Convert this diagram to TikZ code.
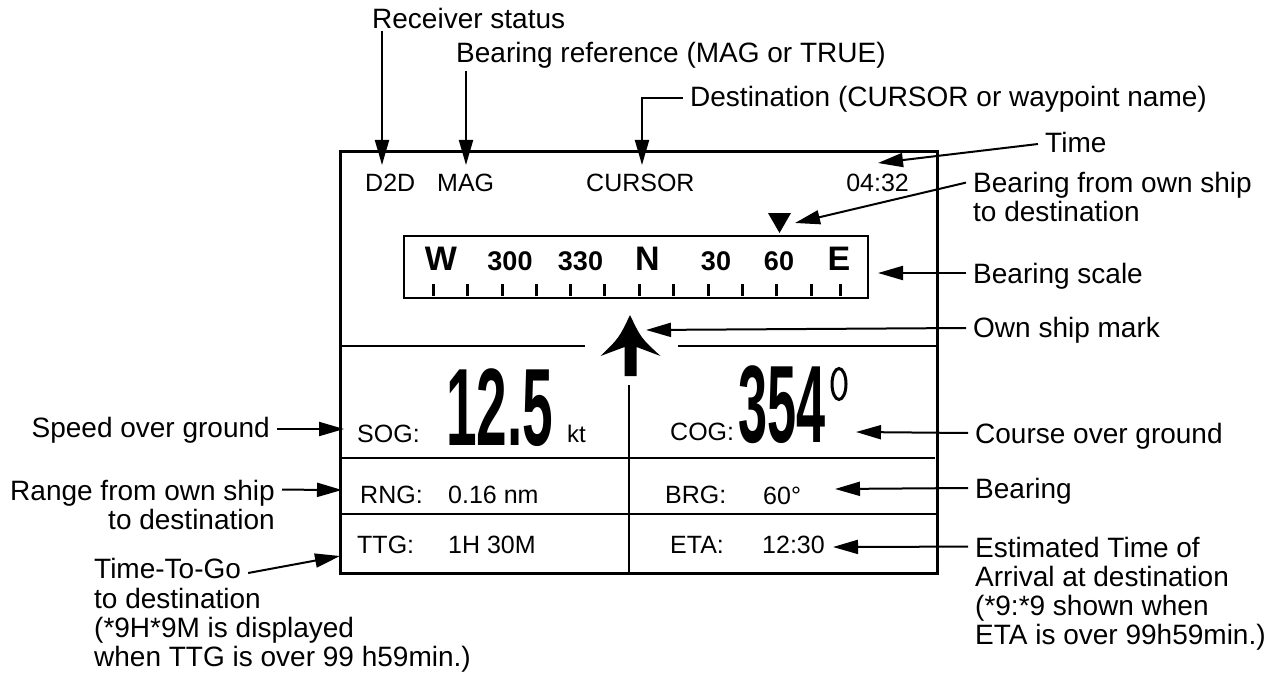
\documentclass[tikz,border=0pt]{standalone}
\usepackage{fontspec}
\setmainfont{Liberation Sans}
\usetikzlibrary{arrows.meta}

\begin{document}
\begin{tikzpicture}[x=1pt, y=-1pt, >={Triangle[length=25pt, width=14pt]},
  lbl/.style={font=\fontsize{28}{29}\selectfont, inner xsep=7pt, inner ysep=2pt},
  scr/.style={font=\fontsize{25}{27}\selectfont, inner sep=0pt, anchor=base west},
  deg/.style={font=\fontsize{27}{27}\selectfont\bfseries, inner sep=0pt, anchor=base},
  big/.style={font=\fontsize{110}{110}\selectfont\bfseries, inner sep=0pt, anchor=base west},
  lead/.style={line width=2pt}]
  \useasboundingbox (0,0) rectangle (1284,679);

  \draw[line width=3pt] (340,152) rectangle (937,573);
  \draw[line width=2pt] (340,346) -- (585,346) (678,346) -- (937,346);
  \draw[line width=2pt] (340,457.5) -- (935,457.5) (340,514) -- (937,514);
  \draw[line width=2pt] (628.5,385) -- (628.5,573);

  \node[scr] (d2d) at (365,191) {D2D};
  \node[scr] (mag) at (437,191) {MAG};
  \node[scr] (cursor) at (586,191) {CURSOR};
  \node[scr, anchor=base east] (clock) at (909,191) {04:32};

  \node[draw, line width=2pt, minimum width=464pt, minimum height=62pt, inner sep=0pt] (scale) at (636,267) {};
  \foreach \t in {433,467.5,502,536,570.5,604.5,639,673.5,708,742,776.5,811,840}
    \draw[line width=3pt] (\t,284) -- (\t,296);
  \foreach \x/\s in {510/300, 580.5/330, 716/30, 779/60}
    \node[deg] (s\s) at (\x,270) {\s};
  \foreach \x/\s in {441/W, 647.5/N, 839/E}
    \node[deg, font=\fontsize{34}{34}\selectfont\bfseries] (p\s) at (\x,270) {\s};
  \fill (768,213) -- (791,213) -- (779.5,233) -- cycle;

  \fill (630,315) .. controls (619,338) .. (600.5,356) -- (624.5,347) -- (624.5,376)
    -- (636.5,376) -- (636.5,347) -- (660.5,356) .. controls (641,338) .. (630,315) -- cycle;

  \node[scr] (sog) at (357,442) {SOG:};
  \node[big] (sogval) at (446,445) {\scalebox{0.5}[1]{12.5}};
  \node[scr, font=\fontsize{24}{24}\selectfont] (kt) at (567,442) {kt};
  \node[scr] (cog) at (670,440) {COG:};
  \node[big] (cogval) at (738,442) {\scalebox{0.475}[1]{354}};
  \draw[line width=3pt] (839,384) ellipse [x radius=7, y radius=15.5];

  \node[scr] (rng) at (360,503) {RNG:};
  \node[scr] (rngval) at (448,503) {0.16 nm};
  \node[scr] (brg) at (665,503) {BRG:};
  \node[scr] (brgval) at (763,504) {60°};
  \node[scr] (ttg) at (357,553) {TTG:};
  \node[scr] (ttgval) at (448,553) {1H 30M};
  \node[scr] (eta) at (670,553) {ETA:};
  \node[scr] (etaval) at (762,553) {12:30};

  \node[lbl, anchor=base west] (rcv) at (365,29) {Receiver status};
  \node[lbl, anchor=base west] (bref) at (449,63) {Bearing reference (MAG or TRUE)};
  \node[lbl, anchor=base west] (dest) at (683,107) {Destination (CURSOR or waypoint name)};
  \node[lbl, anchor=base west] (time) at (1038,153) {Time};
  \node[lbl, anchor=north west, align=left] (bfo) at (966,169.6) {Bearing from own ship\\to destination};
  \node[lbl, anchor=base west] (bsc) at (966,283) {Bearing scale};
  \node[lbl, anchor=base west] (osm) at (966,337) {Own ship mark};
  \node[lbl, anchor=base west] (cogl) at (968,443) {Course over ground};
  \node[lbl, anchor=base west] (brgl) at (968,498) {Bearing};
  \node[lbl, anchor=north west, align=left] (etal) at (968,534.6) {Estimated Time of\\Arrival at destination\\(*9:*9 shown when\\ETA is over 99h59min.)};
  \node[lbl, anchor=base east] (sogl) at (277,437) {Speed over ground};
  \node[lbl, anchor=north east, align=right] (rngl) at (282,477.6) {Range from own ship\\to destination};
  \node[lbl, anchor=base west] (ttgl) at (87,578) {Time-To-Go};
  \node[lbl, anchor=north west, align=left] (ttgnote) at (87,585.6) {to destination\\(*9H*9M is displayed\\when TTG is over 99 h59min.)};

  \coordinate (rcvtip) at (382,165);
  \coordinate (breftip) at (466,165);
  \coordinate (desttip) at (642,165);
  \coordinate (timetip) at (878,163);
  \coordinate (bfotip) at (795,223);
  \coordinate (bsctip) at (878,273);
  \coordinate (osmtip) at (646,330);
  \coordinate (cogtip) at (856,432);
  \coordinate (brgtip) at (835,489);
  \coordinate (etatip) at (833,547);
  \coordinate (sogtip) at (344,429);
  \coordinate (rngtip) at (342,490);
  \coordinate (ttgtip) at (340,556);

  \draw[lead, ->] (rcv.south -| rcvtip) -- (rcvtip);
  \draw[lead, ->] (bref.south -| breftip) -- (breftip);
  \draw[lead, ->] ([yshift=9pt]dest.base west) -| (desttip);
  \draw[lead, ->] ([yshift=9pt]time.base west) -- (timetip);
  \draw[lead, ->] ([yshift=-13pt]bfo.north west) -- (bfotip);
  \draw[lead, ->] ([yshift=10pt]bsc.base west) -- (bsctip);
  \draw[lead, ->] ([yshift=9pt]osm.base west) -- (osmtip);
  \draw[lead, ->] ([yshift=10pt]cogl.base west) -- (cogtip);
  \draw[lead, ->] ([yshift=10pt]brgl.base west) -- (brgtip);
  \draw[lead, ->] ([yshift=-12pt]etal.north west) -- (etatip);
  \draw[lead, ->] ([yshift=8pt]sogl.base east) -- (sogtip);
  \draw[lead, ->] ([yshift=-12pt]rngl.north east) -- (rngtip);
  \draw[lead, ->] ([yshift=5pt]ttgl.base east) -- (ttgtip);
\end{tikzpicture}
\end{document}
